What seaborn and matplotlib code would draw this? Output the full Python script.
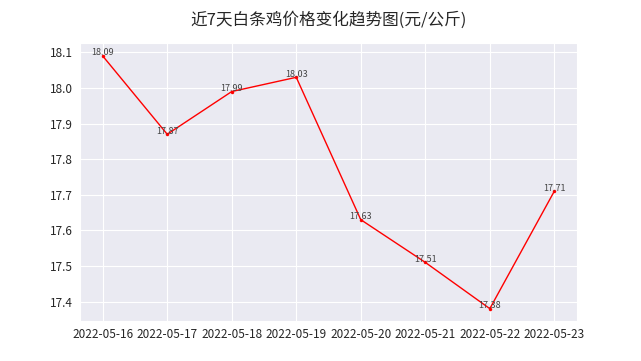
import matplotlib
matplotlib.use('Agg')
import matplotlib.pyplot as plt
import pandas as pd
import seaborn as sns

# prices of the last 7 days
dates = ['2022-05-16', '2022-05-17', '2022-05-18', '2022-05-19',
         '2022-05-20', '2022-05-21', '2022-05-22', '2022-05-23']
prices = [18.09, 17.87, 17.99, 18.03, 17.63, 17.51, 17.38, 17.71]

sns.set_style('darkgrid')
plt.rcParams['font.family'] = ['Noto Sans CJK SC', 'DejaVu Sans']
plt.rcParams['axes.unicode_minus'] = False

df = pd.DataFrame({'date': dates, 'price': prices})

fig, ax = plt.subplots(figsize=(6.41, 3.61), dpi=100)
sns.lineplot(x='date', y='price', data=df, color='red', linewidth=1,
             marker='o', markersize=2.5, markeredgewidth=0, ax=ax)

# value labels on each point
for i, p in enumerate(prices):
    ax.text(i, p - 0.004, f'{p:.2f}', ha='center', va='bottom', fontsize=6.5, color='#444444')

ax.set_title('近7天白条鸡价格变化趋势图(元/公斤)', fontsize=12, pad=13, color='#262626')
ax.set_xlabel('')
ax.set_ylabel('')
ax.tick_params(axis='both', labelsize=8.5, colors='#262626')
ax.tick_params(axis='x', pad=1)
ax.tick_params(axis='y', pad=2)

fig.savefig('out.png', dpi=100)
